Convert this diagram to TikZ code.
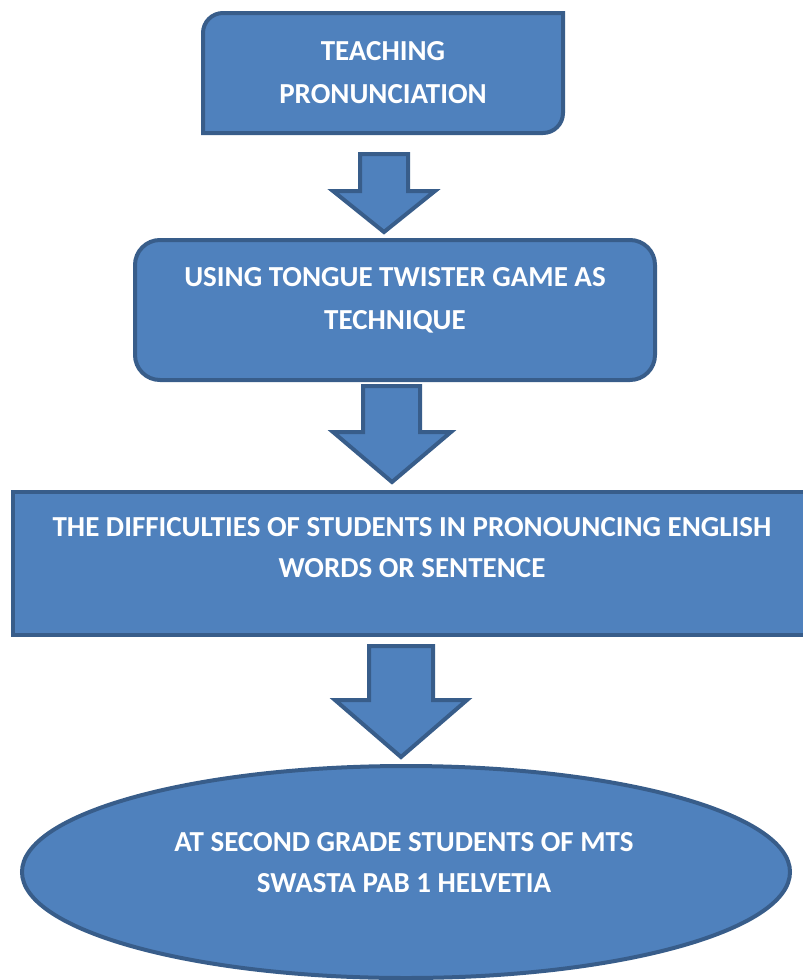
\documentclass[tikz,border=0pt]{standalone}
\usepackage{fontspec}
\setmainfont{Carlito}
\definecolor{boxfill}{HTML}{4F81BD}
\definecolor{boxline}{HTML}{385D8A}
\tikzset{
  shapestyle/.style={fill=boxfill, draw=boxline, line width=4pt, line join=miter},
  txt/.style={text=white, align=center, inner sep=0pt, font={\fontsize{29}{43}\selectfont\bfseries}},
}
\begin{document}
\begin{tikzpicture}[x=1pt,y=-1pt]
\useasboundingbox (0,0) rectangle (803,980);
% box 1: rounded top-left and bottom-right corners
\draw[shapestyle] (203,33) arc[start angle=180, end angle=270, radius=20] -- (563,13) -- (563,113)
  arc[start angle=0, end angle=90, radius=20] -- (203,133) -- cycle;
\node[txt] (t1) at (383,73) {TEACHING\\PRONUNCIATION};
% arrow 1
\draw[shapestyle] (360,154) -- (408,154) -- (408,191) -- (435,191) -- (384,232) -- (333,191) -- (360,191) -- cycle;
% box 2
\node[shapestyle, rounded corners=25pt, minimum width=520pt, minimum height=140pt, inner sep=0pt] (b2) at (395,310) {};
\node[txt] (t2) at (395,300) {USING TONGUE TWISTER GAME AS\\TECHNIQUE};
% arrow 2
\draw[shapestyle] (363,386) -- (420,386) -- (420,432) -- (451,432) -- (392,482) -- (333,432) -- (363,432) -- cycle;
% box 3
\draw[shapestyle] (13,492) rectangle (808,635);
\node[txt, font={\fontsize{29}{41}\selectfont\bfseries}] (t3) at (412,548) {THE DIFFICULTIES OF STUDENTS IN PRONOUNCING ENGLISH\\WORDS OR SENTENCE};
% arrow 3
\draw[shapestyle] (369,646) -- (433,646) -- (433,700) -- (467,700) -- (401,757) -- (335,700) -- (369,700) -- cycle;
% ellipse
\draw[shapestyle] (406,872) ellipse[x radius=384, y radius=106];
\node[txt, font={\fontsize{29}{41}\selectfont\bfseries}] (t4) at (404,863) {AT SECOND GRADE STUDENTS OF MTS\\SWASTA PAB 1 HELVETIA};
\end{tikzpicture}
\end{document}
